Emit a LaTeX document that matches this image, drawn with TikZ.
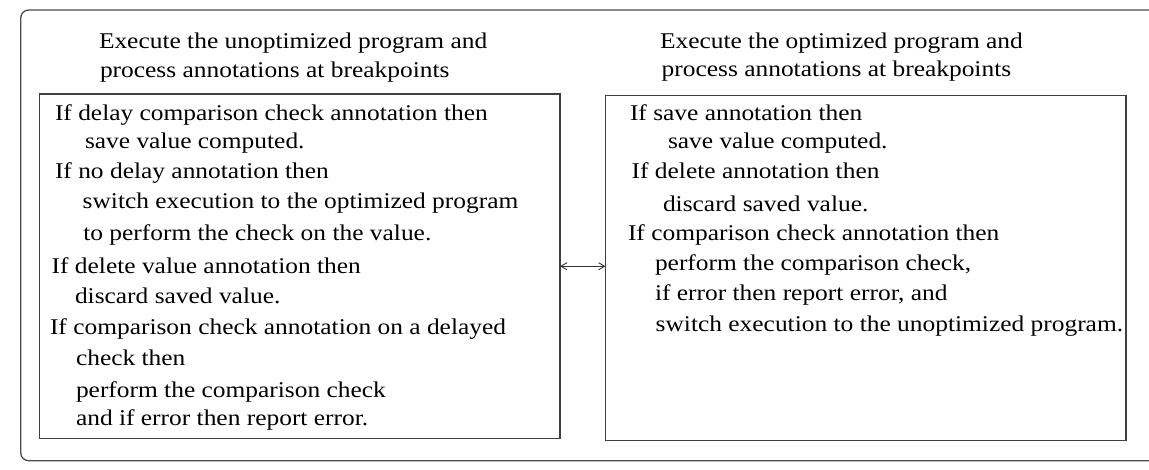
\documentclass[tikz,border=0pt]{standalone}
\usepackage{fontspec}
\setmainfont{Liberation Serif}[FakeStretch=1.13]
\usetikzlibrary{arrows.meta}

\tikzset{
  panel/.style={draw=black!75, line width=1.3pt, inner sep=0pt, outer sep=0pt, anchor=north west},
  frame/.style={draw=black!70, line width=1.3pt, rounded corners=8pt, inner sep=0pt, outer sep=0pt, anchor=north west},
  txt/.style={anchor=base west, inner sep=0pt, outer sep=0pt, font=\fontsize{22.5}{27}\selectfont},
  link/.style={draw=black!80, line width=0.9pt, {Straight Barb[length=6pt,width=7pt]}-{Straight Barb[length=6pt,width=7pt]}}
}

\begin{document}
\begin{tikzpicture}[x=1pt, y=-1pt]
  \clip (0,0) rectangle (1149,469);
  \fill[white] (0,0) rectangle (1149,469);

  % enclosing frame, running off the right edge
  \node[frame, minimum width=1160pt, minimum height=450.7pt] (outer) at (20.7,10) {};

  % the two execution panels
  \node[panel, minimum width=520.7pt, minimum height=344.5pt] (ubox) at (39.3,94) {};
  \node[panel, minimum width=520.5pt, minimum height=345pt] (obox) at (605.5,95.7) {};

  % panel headings
  \node[txt] (ut1) at (99,48.3) {Execute the unoptimized program and};
  \node[txt] (ut2) at (100,77) {process annotations at breakpoints};
  \node[txt] (ot1) at (660,48.3) {Execute the optimized program and};
  \node[txt] (ot2) at (661.7,76.7) {process annotations at breakpoints};

  % unoptimized program actions
  \node[txt] (ul1) at (55,120) {If delay comparison check annotation then};
  \node[txt] (ul2) at (85,148.3) {save value computed.};
  \node[txt] (ul3) at (55,178.3) {If no delay annotation then};
  \node[txt] (ul4) at (82.7,208.3) {switch execution to the optimized program};
  \node[txt] (ul5) at (83.3,240) {to perform the check on the value.};
  \node[txt] (ul6) at (51.7,273) {If delete value annotation then};
  \node[txt] (ul7) at (75,303) {discard saved value.};
  \node[txt] (ul8) at (50,334) {If comparison check annotation on a delayed};
  \node[txt] (ul9) at (76,365) {check then};
  \node[txt] (ul10) at (76,397) {perform the comparison check};
  \node[txt] (ul11) at (76,425) {and if error then report error.};

  % optimized program actions
  \node[txt] (ol1) at (630,120) {If save annotation then};
  \node[txt] (ol2) at (668,148.3) {save value computed.};
  \node[txt] (ol3) at (631.7,178.3) {If delete annotation then};
  \node[txt] (ol4) at (663,211.7) {discard saved value.};
  \node[txt] (ol5) at (628,240) {If comparison check annotation then};
  \node[txt] (ol6) at (655,270) {perform the comparison check,};
  \node[txt] (ol7) at (655,300) {if error then report error, and};
  \node[txt] (ol8) at (655.7,331.7) {switch execution to the unoptimized program.};

  % control passes back and forth between the panels
  \draw[link] (ubox.east) -- (ubox.east -| obox.west);
\end{tikzpicture}
\end{document}
